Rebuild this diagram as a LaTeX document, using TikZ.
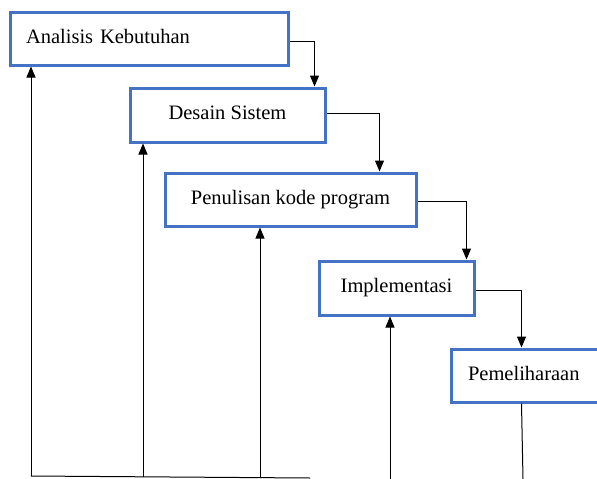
\documentclass[tikz,border=0pt]{standalone}
\usepackage{fontspec}
\setmainfont{Liberation Serif}
\usetikzlibrary{arrows.meta}
\definecolor{boxblue}{HTML}{4472C4}
\tikzset{
  stage/.style={draw=boxblue, line width=3pt, fill=white, rectangle, inner sep=0pt,
    text height=15pt, text depth=6pt,
    font=\fontsize{20.5}{24}\selectfont},
  conn/.style={line width=1pt, black},
  arr/.style={conn, -{Triangle[length=11pt,width=9pt]}}
}
\begin{document}
\begin{tikzpicture}[x=1pt,y=-1pt]
\useasboundingbox (0,0) rectangle (597,479);
\clip (0,0) rectangle (597,479);
\fill[white] (0,0) rectangle (597,479);
% stages
\node[stage, minimum width=278pt, minimum height=53pt, text width=246pt, align=left] (A) at (149,38.5) {Analisis Kebutuhan};
\node[stage, minimum width=195pt, minimum height=54pt] (B) at (227.5,115) {Desain Sistem};
\node[stage, minimum width=251pt, minimum height=53pt] (C) at (290.5,199.5) {Penulisan kode program};
\node[stage, minimum width=155pt, minimum height=54pt] (D) at (396.5,288) {Implementasi};
\node[stage, minimum width=160pt, minimum height=53pt, text width=126pt, align=left] (E) at (531,375.5) {Pemeliharaan};
% bottom points
\coordinate (f1) at (31,476);
\coordinate (f2) at (143,476.5);
\coordinate (f3) at (260,477);
\coordinate (f4) at (390,479);
\coordinate (f5) at (523,479);
\coordinate (fend) at (310,478);
% forward connectors
\draw[arr] ([yshift=-3pt]A.east) -| ([xshift=-12pt]B.north east);
\draw[arr] ([yshift=2pt]B.east) -| ([xshift=-38pt]C.north east);
\draw[arr] ([yshift=-2pt]C.east) -| ([xshift=-9pt]D.north east);
\draw[arr] ([yshift=-2pt]D.east) -| ([xshift=72pt]E.north west);
\draw[conn] ([xshift=72pt]E.south west) -- (f5);
% feedback
\draw[conn] (f1) -- (fend);
\draw[arr] (f1) -- (f1 |- A.south);
\draw[arr] (f2) -- (f2 |- B.south);
\draw[arr] (f3) -- (f3 |- C.south);
\draw[arr] (f4) -- (f4 |- D.south);
\end{tikzpicture}
\end{document}
